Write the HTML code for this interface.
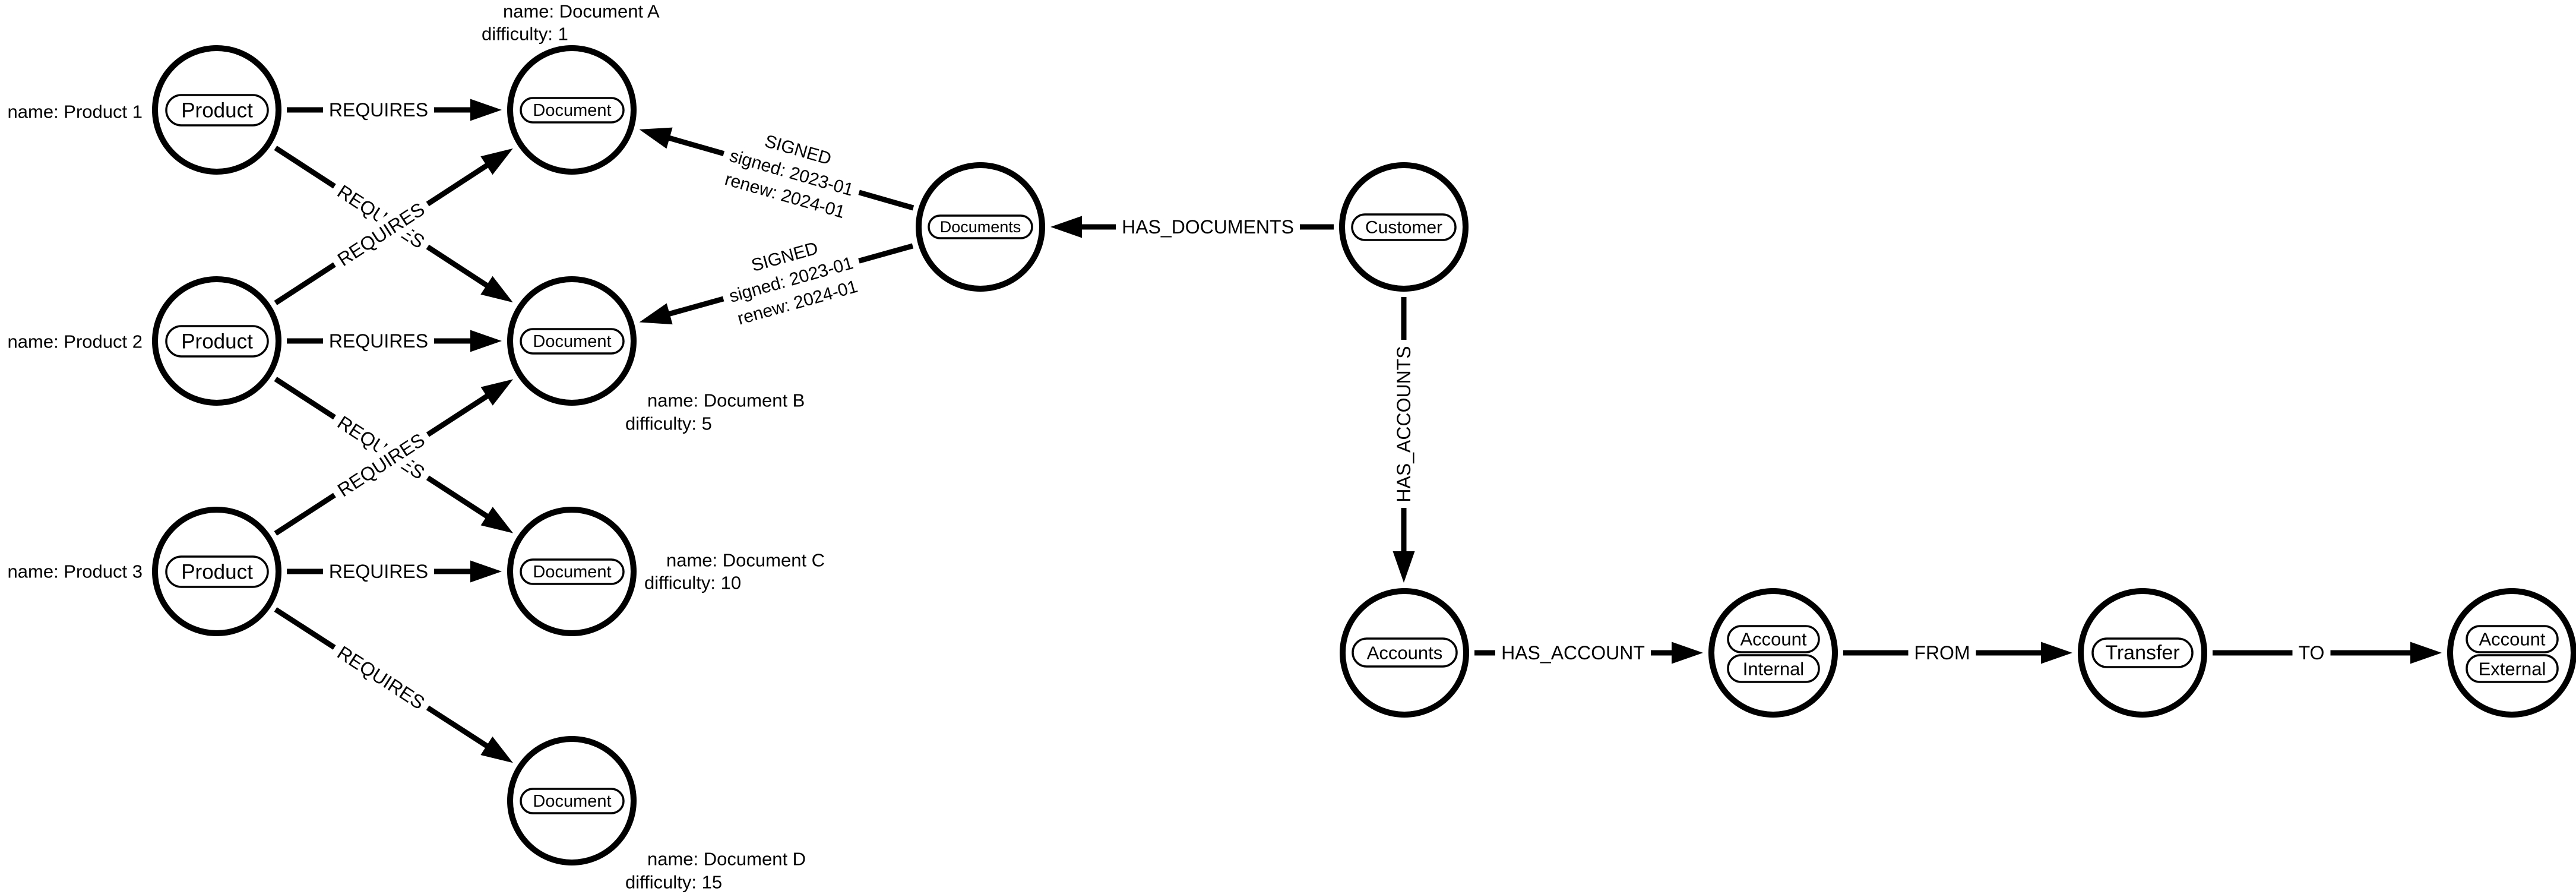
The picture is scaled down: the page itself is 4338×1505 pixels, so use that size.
<!DOCTYPE html>
<html><head><meta charset="utf-8"><style>
html,body{margin:0;padding:0;background:#fff;}
svg{display:block;}
text{font-family:"Liberation Sans",Arial,sans-serif;fill:#000;}
</style></head><body>
<svg width="4338" height="1505" viewBox="0 0 4338 1505" xmlns="http://www.w3.org/2000/svg">
<rect width="4338" height="1505" fill="#fff"/>
<g stroke="#000" stroke-width="9" fill="#000">

<!-- P1 -> DA -->
<g transform="translate(483,185)"><line x1="0" y1="0" x2="312" y2="0"/><polygon stroke="none" points="362,0 309,-18.5 309,18.5"/><rect stroke="none" fill="#fff" x="61" y="-22" width="187" height="44"/><text stroke="none" x="154.5" y="0" font-size="32" text-anchor="middle" dominant-baseline="central">REQUIRES</text></g>
<!-- P2 -> DB -->
<g transform="translate(483,574)"><line x1="0" y1="0" x2="312" y2="0"/><polygon stroke="none" points="362,0 309,-18.5 309,18.5"/><rect stroke="none" fill="#fff" x="61" y="-22" width="187" height="44"/><text stroke="none" x="154.5" y="0" font-size="32" text-anchor="middle" dominant-baseline="central">REQUIRES</text></g>
<!-- P3 -> DC -->
<g transform="translate(483,962)"><line x1="0" y1="0" x2="312" y2="0"/><polygon stroke="none" points="362,0 309,-18.5 309,18.5"/><rect stroke="none" fill="#fff" x="61" y="-22" width="187" height="44"/><text stroke="none" x="154.5" y="0" font-size="32" text-anchor="middle" dominant-baseline="central">REQUIRES</text></g>

<!-- P1 -> DB -->
<g transform="translate(464,249) rotate(33.05)"><line x1="0" y1="0" x2="427" y2="0"/><polygon stroke="none" points="477,0 424,-18.5 424,18.5"/><rect stroke="none" fill="#fff" x="118.5" y="-22" width="187" height="44"/><text stroke="none" x="212" y="0" font-size="32" text-anchor="middle" dominant-baseline="central">REQUIRES</text></g>
<!-- P2 -> DA -->
<g transform="translate(464,510) rotate(-33.05)"><line x1="0" y1="0" x2="427" y2="0"/><polygon stroke="none" points="477,0 424,-18.5 424,18.5"/><rect stroke="none" fill="#fff" x="118.5" y="-22" width="187" height="44"/><text stroke="none" x="212" y="0" font-size="32" text-anchor="middle" dominant-baseline="central">REQUIRES</text></g>
<!-- P2 -> DC -->
<g transform="translate(464,638) rotate(32.98)"><line x1="0" y1="0" x2="427" y2="0"/><polygon stroke="none" points="477,0 424,-18.5 424,18.5"/><rect stroke="none" fill="#fff" x="118.5" y="-22" width="187" height="44"/><text stroke="none" x="212" y="0" font-size="32" text-anchor="middle" dominant-baseline="central">REQUIRES</text></g>
<!-- P3 -> DB -->
<g transform="translate(464,898) rotate(-32.98)"><line x1="0" y1="0" x2="427" y2="0"/><polygon stroke="none" points="477,0 424,-18.5 424,18.5"/><rect stroke="none" fill="#fff" x="118.5" y="-22" width="187" height="44"/><text stroke="none" x="212" y="0" font-size="32" text-anchor="middle" dominant-baseline="central">REQUIRES</text></g>
<!-- P3 -> DD -->
<g transform="translate(464,1026) rotate(32.85)"><line x1="0" y1="0" x2="426" y2="0"/><polygon stroke="none" points="476,0 423,-18.5 423,18.5"/><rect stroke="none" fill="#fff" x="118" y="-22" width="187" height="44"/><text stroke="none" x="211.5" y="0" font-size="32" text-anchor="middle" dominant-baseline="central">REQUIRES</text></g>

<!-- Documents -> DA -->
<g transform="translate(1538,350) rotate(195.98)"><line x1="0" y1="0" x2="430" y2="0"/><polygon stroke="none" points="480,0 427,-18.5 427,18.5"/><rect stroke="none" fill="#fff" x="95" y="-62" width="237" height="124"/>
<g transform="translate(213.5,0) rotate(180)"><text stroke="none" x="0" y="-40" font-size="30" text-anchor="middle" dominant-baseline="central">SIGNED</text><text stroke="none" x="0" y="0" font-size="30" text-anchor="middle" dominant-baseline="central">signed: 2023-01</text><text stroke="none" x="0" y="40" font-size="30" text-anchor="middle" dominant-baseline="central">renew: 2024-01</text></g></g>
<!-- Documents -> DB -->
<g transform="translate(1537,414) rotate(164.4)"><line x1="0" y1="0" x2="428" y2="0"/><polygon stroke="none" points="478,0 425,-18.5 425,18.5"/><rect stroke="none" fill="#fff" x="94" y="-62" width="237" height="124"/>
<g transform="translate(212.5,0) rotate(180)"><text stroke="none" x="0" y="-40" font-size="30" text-anchor="middle" dominant-baseline="central">SIGNED</text><text stroke="none" x="0" y="0" font-size="30" text-anchor="middle" dominant-baseline="central">signed: 2023-01</text><text stroke="none" x="0" y="40" font-size="30" text-anchor="middle" dominant-baseline="central">renew: 2024-01</text></g></g>

<!-- Customer -> Documents -->
<g transform="translate(2246,382) rotate(180)"><line x1="0" y1="0" x2="427" y2="0"/><polygon stroke="none" points="477,0 424,-18.5 424,18.5"/><rect stroke="none" fill="#fff" x="57" y="-22" width="310" height="44"/><g transform="translate(212,0) rotate(180)"><text stroke="none" x="0" y="0" font-size="32" text-anchor="middle" dominant-baseline="central">HAS_DOCUMENTS</text></g></g>
<!-- Customer -> Accounts -->
<g transform="translate(2364,500) rotate(90)"><line x1="0" y1="0" x2="431" y2="0"/><polygon stroke="none" points="481,0 428,-18.5 428,18.5"/><rect stroke="none" fill="#fff" x="72" y="-22" width="283" height="44"/><g transform="translate(214,0) rotate(180)"><text stroke="none" x="0" y="0" font-size="32" text-anchor="middle" dominant-baseline="central">HAS_ACCOUNTS</text></g></g>

<!-- Accounts -> AI -->
<g transform="translate(2483,1099)"><line x1="0" y1="0" x2="335" y2="0"/><polygon stroke="none" points="385,0 332,-18.5 332,18.5"/><rect stroke="none" fill="#fff" x="35" y="-22" width="262" height="44"/><text stroke="none" x="166" y="0" font-size="32" text-anchor="middle" dominant-baseline="central">HAS_ACCOUNT</text></g>
<!-- AI -> Transfer -->
<g transform="translate(3104,1099)"><line x1="0" y1="0" x2="336" y2="0"/><polygon stroke="none" points="386,0 333,-18.5 333,18.5"/><rect stroke="none" fill="#fff" x="109.5" y="-22" width="114" height="44"/><text stroke="none" x="166.5" y="0" font-size="32" text-anchor="middle" dominant-baseline="central">FROM</text></g>
<!-- Transfer -> External -->
<g transform="translate(3726,1099)"><line x1="0" y1="0" x2="336" y2="0"/><polygon stroke="none" points="386,0 333,-18.5 333,18.5"/><rect stroke="none" fill="#fff" x="134.5" y="-22" width="64" height="44"/><text stroke="none" x="166.5" y="0" font-size="32" text-anchor="middle" dominant-baseline="central">TO</text></g>
</g>

<!-- Nodes -->
<g fill="#fff" stroke="#000" stroke-width="10">
<circle cx="365" cy="185" r="104"/><circle cx="365" cy="574" r="104"/><circle cx="365" cy="962" r="104"/>
<circle cx="963" cy="185" r="104"/><circle cx="963" cy="574" r="104"/><circle cx="963" cy="962" r="104"/><circle cx="963" cy="1348" r="104"/>
<circle cx="1651" cy="382" r="104"/><circle cx="2364" cy="382" r="104"/>
<circle cx="2365" cy="1099" r="104"/><circle cx="2986" cy="1099" r="104"/><circle cx="3608" cy="1099" r="104"/><circle cx="4230" cy="1099" r="104"/>
</g>

<!-- Pills -->
<g fill="#fff" stroke="#000" stroke-width="3.5">
<rect x="280" y="160" width="171" height="51" rx="25.5"/>
<rect x="280" y="549" width="171" height="51" rx="25.5"/>
<rect x="280" y="937" width="171" height="51" rx="25.5"/>
<rect x="877" y="165" width="173" height="41" rx="20.5"/>
<rect x="877" y="554" width="173" height="41" rx="20.5"/>
<rect x="877" y="942" width="173" height="41" rx="20.5"/>
<rect x="877" y="1328" width="173" height="41" rx="20.5"/>
<rect x="1564" y="363" width="174" height="38" rx="19"/>
<rect x="2277" y="361" width="174" height="43" rx="21.5"/>
<rect x="2278" y="1075" width="175" height="47" rx="23.5"/>
<rect x="2910" y="1054" width="153" height="44" rx="22"/>
<rect x="2910" y="1103" width="153" height="45" rx="22"/>
<rect x="3524" y="1075" width="168" height="48" rx="24"/>
<rect x="4154" y="1054" width="153" height="44" rx="22"/>
<rect x="4154" y="1103" width="153" height="45" rx="22"/>
</g>
<g text-anchor="middle" dominant-baseline="central">
<text x="365.5" y="186" font-size="35">Product</text>
<text x="365.5" y="575" font-size="35">Product</text>
<text x="365.5" y="963" font-size="35">Product</text>
<text x="963.5" y="186" font-size="29">Document</text>
<text x="963.5" y="575" font-size="29">Document</text>
<text x="963.5" y="963" font-size="29">Document</text>
<text x="963.5" y="1349" font-size="29">Document</text>
<text x="1651" y="382" font-size="27">Documents</text>
<text x="2364" y="383" font-size="30">Customer</text>
<text x="2365.5" y="1099" font-size="31">Accounts</text>
<text x="2986.5" y="1076" font-size="31">Account</text>
<text x="2986.5" y="1126" font-size="31">Internal</text>
<text x="3608" y="1099" font-size="34">Transfer</text>
<text x="4230.5" y="1076" font-size="31">Account</text>
<text x="4230.5" y="1126" font-size="31">External</text>
</g>

<!-- Properties -->
<g font-size="31" dominant-baseline="central">
<text x="240" y="188" text-anchor="end">name: Product 1</text>
<text x="240" y="575" text-anchor="end">name: Product 2</text>
<text x="240" y="962" text-anchor="end">name: Product 3</text>
<text x="847" y="19">name: Document A</text>
<text x="811" y="57">difficulty: 1</text>
<text x="1090" y="674">name: Document B</text>
<text x="1053" y="713">difficulty: 5</text>
<text x="1122" y="943">name: Document C</text>
<text x="1085" y="981">difficulty: 10</text>
<text x="1090" y="1446">name: Document D</text>
<text x="1053" y="1485">difficulty: 15</text>
</g>
</svg>
</body></html>
